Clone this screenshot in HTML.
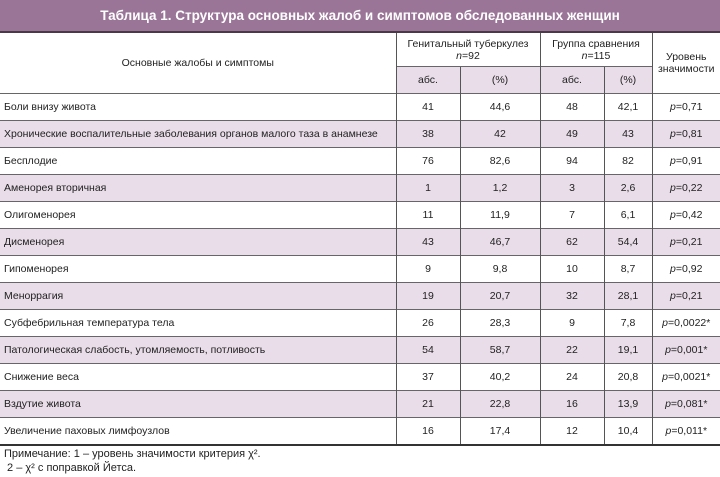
<!DOCTYPE html>
<html><head><meta charset="utf-8"><style>
body{margin:0;width:720px;height:477px;background:#fff;font-family:"Liberation Sans",sans-serif;color:#222;position:relative;overflow:hidden}
.title{position:absolute;left:0;top:0;width:720px;height:31px;background:#9a7598;border-bottom:2px solid #4a3a48;color:#fff;font-weight:bold;font-size:13.5px;text-align:center;line-height:32px}
table{position:absolute;left:0;top:33px;border-collapse:collapse;font-size:10.5px;table-layout:fixed}
td{border-top:1px solid #666;border-left:1px solid #555;padding:0;text-align:center;height:26px;white-space:nowrap;line-height:12px}
td.l{border-left:none;text-align:left;padding-left:4px}
tr.s td{background:#e8dde8}
.sub td{background:#e8dde8}
.last td{border-bottom:2px solid #333}
.note{position:absolute;left:4px;top:447px;font-size:11px;line-height:14px}
i{font-style:italic}
</style></head><body>
<div class="title">Таблица 1. Структура основных жалоб и симптомов обследованных женщин</div>
<table>
<colgroup><col style="width:396px"><col style="width:64px"><col style="width:80px"><col style="width:64px"><col style="width:48px"><col style="width:68px"></colgroup>
<tr><td rowspan="2" style="border-left:none;border-top:none">Основные жалобы и симптомы</td><td colspan="2" style="height:33px;border-top:none">Генитальный туберкулез<br><i>n</i>=92</td><td colspan="2" style="border-top:none">Группа сравнения<br><i>n</i>=115</td><td rowspan="2" style="border-top:none">Уровень<br>значимости</td></tr>
<tr class="sub"><td style="height:21px">абс.</td><td>(%)</td><td>абс.</td><td>(%)</td></tr>
<tr><td class="l">Боли внизу живота</td><td>41</td><td>44,6</td><td>48</td><td>42,1</td><td><i>p</i>=0,71</td></tr>
<tr class="s"><td class="l">Хронические воспалительные заболевания органов малого таза в анамнезе</td><td>38</td><td>42</td><td>49</td><td>43</td><td><i>p</i>=0,81</td></tr>
<tr><td class="l">Бесплодие</td><td>76</td><td>82,6</td><td>94</td><td>82</td><td><i>p</i>=0,91</td></tr>
<tr class="s"><td class="l">Аменорея вторичная</td><td>1</td><td>1,2</td><td>3</td><td>2,6</td><td><i>p</i>=0,22</td></tr>
<tr><td class="l">Олигоменорея</td><td>11</td><td>11,9</td><td>7</td><td>6,1</td><td><i>p</i>=0,42</td></tr>
<tr class="s"><td class="l">Дисменорея</td><td>43</td><td>46,7</td><td>62</td><td>54,4</td><td><i>p</i>=0,21</td></tr>
<tr><td class="l">Гипоменорея</td><td>9</td><td>9,8</td><td>10</td><td>8,7</td><td><i>p</i>=0,92</td></tr>
<tr class="s"><td class="l">Меноррагия</td><td>19</td><td>20,7</td><td>32</td><td>28,1</td><td><i>p</i>=0,21</td></tr>
<tr><td class="l">Субфебрильная температура тела</td><td>26</td><td>28,3</td><td>9</td><td>7,8</td><td><i>p</i>=0,0022*</td></tr>
<tr class="s"><td class="l">Патологическая слабость, утомляемость, потливость</td><td>54</td><td>58,7</td><td>22</td><td>19,1</td><td><i>p</i>=0,001*</td></tr>
<tr><td class="l">Снижение веса</td><td>37</td><td>40,2</td><td>24</td><td>20,8</td><td><i>p</i>=0,0021*</td></tr>
<tr class="s"><td class="l">Вздутие живота</td><td>21</td><td>22,8</td><td>16</td><td>13,9</td><td><i>p</i>=0,081*</td></tr>
<tr class="last"><td class="l">Увеличение паховых лимфоузлов</td><td>16</td><td>17,4</td><td>12</td><td>10,4</td><td><i>p</i>=0,011*</td></tr>
</table>
<div class="note">Примечание: 1 – уровень значимости критерия χ².<br>&nbsp;2 – χ² с поправкой Йетса.</div>
</body></html>
